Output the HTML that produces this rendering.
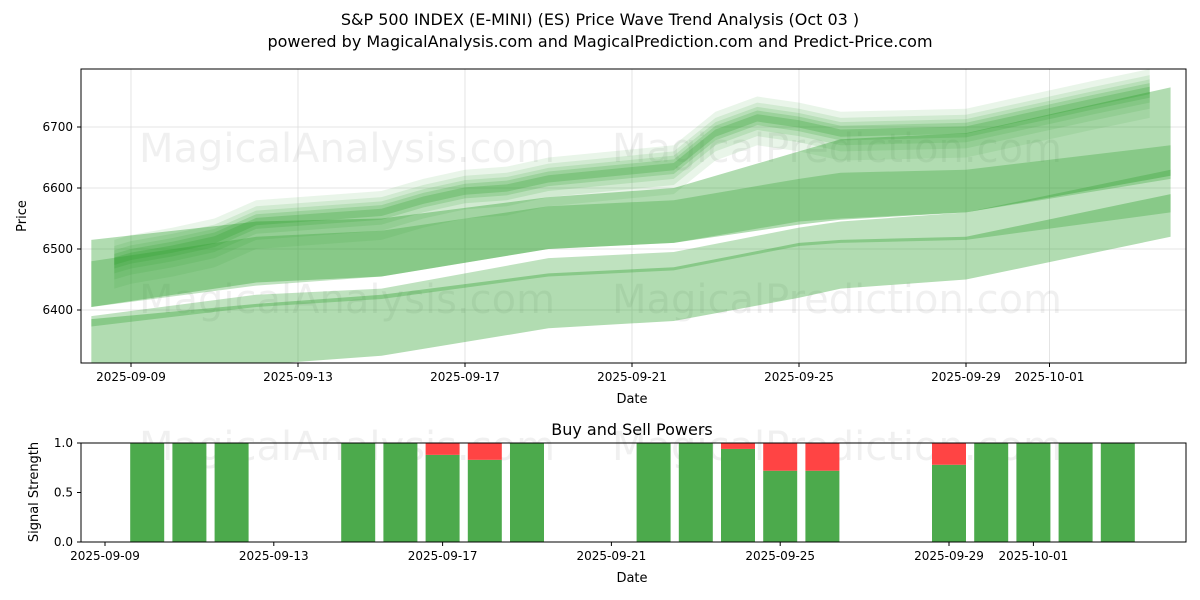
<!DOCTYPE html>
<html><head><meta charset="utf-8"><style>
body{margin:0;background:#fff;}
svg{display:block;font-family:"DejaVu Sans","Liberation Sans",sans-serif;}
</style></head><body>
<svg id="c" width="1200" height="600" viewBox="0 0 1200 600">
<text x="600" y="25" text-anchor="middle" font-size="16">S&amp;P 500 INDEX (E-MINI) (ES) Price Wave Trend Analysis (Oct 03 )</text>
<text x="600" y="47" text-anchor="middle" font-size="16">powered by MagicalAnalysis.com and MagicalPrediction.com and Predict-Price.com</text>
<g id="topg"></g><g id="botg"></g>
</svg>
<script>
// ---- data ----
const bandDays = [-0.95, 3, 6, 10, 13, 16, 17, 20, 24.9]; // days from 2025-09-09
const lightTopLo = [6405,6445,6455,6500,6510,6540,6548,6560,6620];
const lightTopHi = [6515,6545,6550,6585,6600,6660,6680,6690,6765];
const darkMidLo = [6405,6440,6455,6500,6510,6545,6550,6560,6615];
const darkMidHi = [6480,6520,6530,6570,6580,6615,6625,6630,6670];
const darkLowLo = [6373,6405,6418,6455,6465,6505,6510,6515,6560];
const darkLowHi = [6390,6425,6435,6485,6495,6535,6545,6560,6630];
const lightBotLo = [6290,6310,6325,6370,6382,6420,6435,6450,6520];
const lightBotHi = [6385,6410,6425,6460,6470,6510,6515,6520,6590];
const coreDays = [-0.4,0,1,2,3,6,7,8,9,10,13,14,15,16,17,20,21,22,23,24.4];
const coreMid = [6480,6488,6500,6515,6545,6560,6580,6595,6600,6615,6635,6690,6715,6705,6690,6695,6710,6725,6740,6760];
const barDays = [1,2,3,6,7,8,9,10,13,14,15,16,17,20,21,22,23,24];
const buyVals = [1,1,1,1,1,0.88,0.83,1,1,1,0.94,0.72,0.72,0.78,1,1,1,1];
const yTicks = [6400,6500,6600,6700];
const xTickDays = [0,4,8,12,16,20,22];
const xTickLabels = ["2025-09-09","2025-09-13","2025-09-17","2025-09-21","2025-09-25","2025-09-29","2025-10-01"];
const sTicks = [0,0.5,1.0];
const sTickLabels = ["0.0","0.5","1.0"];
// ---- scales ----
const NS="http://www.w3.org/2000/svg";
const L=81,R=1186,T=69,B=363,BT=443,BB=542;
const x=d=>131+d*41.75;
const xb=d=>105+d*42.2;
const y=v=>127+(6700-v)*0.61;
const ys=v=>BB-v*(BB-BT);
function mk(tag,attrs,parent){const e=document.createElementNS(NS,tag);for(const k in attrs)e.setAttribute(k,attrs[k]);parent.appendChild(e);return e;}
const topG=document.getElementById('topg'), botG=document.getElementById('botg');
mk('rect',{x:L,y:T,width:R-L,height:B-T,fill:'#fff'},topG);
const clip=mk('clipPath',{id:'cp'},topG);mk('rect',{x:L,y:T,width:R-L,height:B-T},clip);
yTicks.forEach(v=>{
 const g=mk('line',{x1:L,x2:R,y1:y(v),y2:y(v),stroke:'#ddd','stroke-width':0.8},topG);
 
 
 mk('line',{x1:L-4,x2:L,y1:y(v),y2:y(v),stroke:'#000'},topG);
 const t=mk('text',{x:L-8,y:y(v)+4,'text-anchor':'end','font-size':12},topG);t.textContent=v;
 
 
});
xTickDays.forEach((d,i)=>{
 mk('line',{x1:x(d),x2:x(d),y1:T,y2:B,stroke:'#ddd','stroke-width':0.8},topG);
 mk('line',{x1:x(d),x2:x(d),y1:B,y2:B+4,stroke:'#000'},topG);
 const t=mk('text',{x:x(d),y:B+18,'text-anchor':'middle','font-size':12},topG);t.textContent=xTickLabels[i];
 
 
});
const wm=[["MagicalAnalysis.com",347,162],["MagicalPrediction.com",837,162],["MagicalAnalysis.com",347,313],["MagicalPrediction.com",837,313]];
wm.forEach(w=>{const t=mk('text',{x:w[1],y:w[2],'text-anchor':'middle','font-size':40,fill:'#000','fill-opacity':0.06},topG);t.textContent=w[0];
 
 });
const plot=mk('g',{'clip-path':'url(#cp)'},topG);
function band(days,lo,hi,op,name){
 let p=days.map((d,i)=>x(d)+','+y(hi[i]));
 for(let i=days.length-1;i>=0;i--)p.push(x(days[i])+','+y(lo[i]));
 const e=mk('polygon',{points:p.join(' '),fill:'#2ca02c','fill-opacity':op},plot);
 
 
}
band(bandDays,lightBotLo,lightBotHi,0.37,'wave-band-bottom');
band(bandDays,lightTopLo,lightTopHi,0.37,'wave-band-top');
band(bandDays,darkMidLo,darkMidHi,0.3,'wave-band-mid');
band(bandDays,darkLowLo,darkLowHi,0.3,'wave-band-low');
[[-45,35,0.1],[-30,25,0.12],[-20,18,0.15],[-12,12,0.2],[-6,6,0.25]].forEach(o=>{
 band(coreDays,coreMid.map(v=>v+o[0]),coreMid.map(v=>v+o[1]),o[2],'price-wave-core');
});
mk('rect',{x:L,y:T,width:R-L,height:B-T,fill:'none',stroke:'#000'},topG);
let t=mk('text',{x:632,y:403,'text-anchor':'middle','font-size':13},topG);t.textContent='Date';
t=mk('text',{x:26,y:216,'text-anchor':'middle','font-size':13,transform:'rotate(-90 26 216)'},topG);t.textContent='Price';
// bottom
t=mk('text',{x:632,y:435,'text-anchor':'middle','font-size':16},botG);t.textContent='Buy and Sell Powers';


[["MagicalAnalysis.com",347,460],["MagicalPrediction.com",837,460]].forEach(w=>{const e=mk('text',{x:w[1],y:w[2],'text-anchor':'middle','font-size':40,fill:'#000','fill-opacity':0.06},botG);e.textContent=w[0];});
barDays.forEach((d,i)=>{
 const b=mk('rect',{x:xb(d)-17,y:ys(buyVals[i]),width:34,height:ys(0)-ys(buyVals[i]),fill:'#4caa4c'},botG);
 
 
 if(buyVals[i]<1){
  const s=mk('rect',{x:xb(d)-17,y:ys(1),width:34,height:ys(buyVals[i])-ys(1),fill:'#ff4444'},botG);
  
  
 }
});
sTicks.forEach((v,i)=>{
 mk('line',{x1:L-4,x2:L,y1:ys(v),y2:ys(v),stroke:'#000'},botG);
 const e=mk('text',{x:L-8,y:ys(v)+4,'text-anchor':'end','font-size':12},botG);e.textContent=sTickLabels[i];
});
xTickDays.forEach((d,i)=>{
 const px=xb(d);
 mk('line',{x1:px,x2:px,y1:BB,y2:BB+4,stroke:'#000'},botG);
 const e=mk('text',{x:px,y:BB+18,'text-anchor':'middle','font-size':12},botG);e.textContent=xTickLabels[i];
});
mk('rect',{x:L,y:BT,width:R-L,height:BB-BT,fill:'none',stroke:'#000'},botG);
t=mk('text',{x:632,y:582,'text-anchor':'middle','font-size':13},botG);t.textContent='Date';
t=mk('text',{x:38,y:492,'text-anchor':'middle','font-size':13,transform:'rotate(-90 38 492)'},botG);t.textContent='Signal Strength';
</script>
</body></html>
